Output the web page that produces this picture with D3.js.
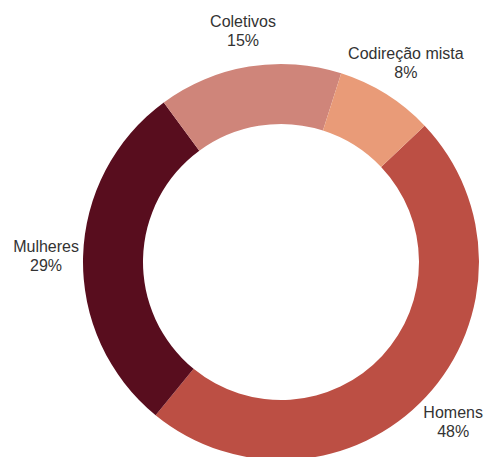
<!DOCTYPE html>
<html>
<head>
<meta charset="utf-8">
<script src="https://cdn.jsdelivr.net/npm/d3@7"></script>
<style>
  html, body { margin: 0; padding: 0; background: #fff; }
  svg { display: block; }
  text { font-family: "Liberation Sans", Arial, Helvetica, sans-serif; font-size: 16px; fill: #333; }
</style>
</head>
<body>
<svg id="chart" width="484" height="457"></svg>
<script>
// Direction breakdown (percent)
const categories = ["Homens", "Mulheres", "Coletivos", "Codireção mista"];
const values = [48, 29, 15, 8];
const colors = ["#bc4f44", "#580d1e", "#cf857a", "#e99b78"];

const width = 484, height = 457;
const cx = 281, cy = 262;
const outerR = 198, innerR = 138, labelR = 235;

const svg = d3.select("#chart");
const g = svg.append("g").attr("transform", `translate(${cx},${cy})`);

const data = categories.map((c, i) => ({ name: c, value: values[i], color: colors[i] }));

const startA = 46.5 * Math.PI / 180;
const pie = d3.pie()
  .value(d => d.value)
  .sort(null)
  .startAngle(startA)
  .endAngle(startA + 2 * Math.PI);

const arc = d3.arc().innerRadius(innerR).outerRadius(outerR);
const labelArc = d3.arc().innerRadius(labelR).outerRadius(labelR);

const arcs = pie(data);

g.selectAll("path.slice")
  .data(arcs)
  .join("path")
  .attr("class", "slice")
  .attr("d", arc)
  .attr("fill", d => d.data.color);

const labels = g.selectAll("g.label")
  .data(arcs)
  .join("g")
  .attr("class", "label")
  .attr("transform", d => {
    const [x, y] = labelArc.centroid(d);
    return `translate(${x},${y})`;
  });

labels.append("text")
  .attr("text-anchor", "middle")
  .attr("y", -3.5)
  .text(d => d.data.name);

labels.append("text")
  .attr("text-anchor", "middle")
  .attr("y", 15.5)
  .text(d => d3.format(".0f")(d.data.value) + "%");
</script>
</body>
</html>
